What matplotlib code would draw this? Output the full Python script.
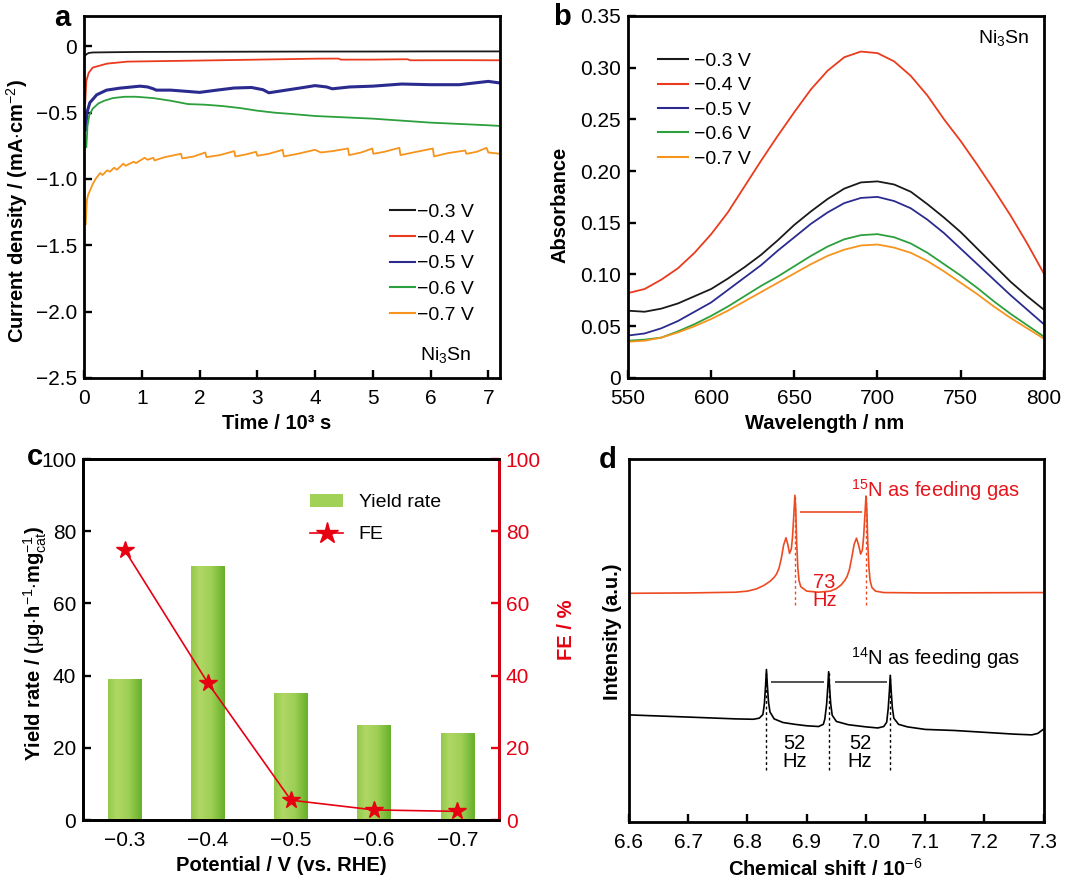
import numpy as np
import matplotlib
matplotlib.use("Agg")
import matplotlib.pyplot as plt
import matplotlib.colors as mcol
from matplotlib.patches import Patch
from matplotlib.lines import Line2D
from matplotlib.ticker import FuncFormatter

plt.rcParams['font.family'] = ['Liberation Sans', 'DejaVu Sans']
plt.rcParams['mathtext.fontset'] = 'custom'
plt.rcParams['mathtext.rm'] = 'Liberation Sans'
plt.rcParams['mathtext.it'] = 'Liberation Sans'
plt.rcParams['mathtext.bf'] = 'Liberation Sans:bold'

# ---------------- data ----------------
labels_v = ['\u22120.3 V', '\u22120.4 V', '\u22120.5 V', '\u22120.6 V', '\u22120.7 V']
colors = ['#1a1a1a', '#ea3b1e', '#2b2b8f', '#2ca03c', '#f7941d']

# (a) chronoamperometry, time in 10^3 s, current in mA cm^-2
black_t = [0.02, 0.04, 0.08, 0.15, 0.5, 1, 2, 3, 4, 5, 6, 7.2]
black_j = [-0.07, -0.06, -0.05, -0.046, -0.044, -0.042, -0.041, -0.04, -0.039, -0.039, -0.038, -0.038]
red_t = [0.02, 0.04, 0.08, 0.15, 0.4, 0.75, 1.2, 2, 3, 4, 4.4, 4.45, 5, 5.6, 5.65, 6.5, 7.2]
red_j = [-0.43, -0.26, -0.2, -0.16, -0.13, -0.115, -0.112, -0.107, -0.1, -0.093, -0.092, -0.1,
         -0.1, -0.097, -0.105, -0.104, -0.105]
blue_t = [0.03, 0.05, 0.1, 0.22, 0.39, 0.62, 0.97, 1.1, 1.2, 1.25, 1.5, 1.8, 2.0, 2.3, 2.6, 2.9,
          3.1, 3.2, 3.5, 3.8, 4.0, 4.2, 4.3, 4.6, 5.0, 5.5, 6.0, 6.5, 7.0, 7.2]
blue_j = [-0.63, -0.5, -0.425, -0.365, -0.33, -0.315, -0.3, -0.306, -0.32, -0.33, -0.33, -0.34,
          -0.347, -0.33, -0.314, -0.31, -0.327, -0.35, -0.33, -0.31, -0.296, -0.306, -0.32,
          -0.306, -0.3, -0.284, -0.289, -0.289, -0.264, -0.276]
green_t = [0.04, 0.06, 0.09, 0.15, 0.25, 0.35, 0.5, 0.7, 0.9, 1.2, 1.5, 1.8, 2.1, 2.4, 2.7, 3.0,
           3.3, 3.6, 4.0, 4.5, 5.0, 5.5, 6.0, 6.5, 7.0, 7.2]
green_j = [-0.76, -0.6, -0.52, -0.47, -0.43, -0.41, -0.39, -0.38, -0.38, -0.39, -0.41, -0.435,
           -0.44, -0.45, -0.465, -0.485, -0.5, -0.51, -0.525, -0.535, -0.545, -0.56, -0.575,
           -0.585, -0.595, -0.6]
orange_t = [0.03, 0.04, 0.05, 0.07, 0.1, 0.15, 0.2, 0.28, 0.32, 0.4, 0.45, 0.52, 0.57, 0.68, 0.72,
            0.86, 0.9, 1.05, 1.1, 1.2, 1.22, 1.4, 1.68, 1.7, 1.9, 2.1, 2.12, 2.35, 2.6, 2.62,
            2.8, 2.98, 3.0, 3.2, 3.44, 3.46, 3.7, 4.0, 4.1, 4.3, 4.57, 4.59, 4.8, 4.99, 5.01,
            5.2, 5.46, 5.48, 5.7, 6.04, 6.06, 6.3, 6.6, 6.62, 6.8, 6.97, 7.0, 7.2]
orange_j = [-1.34, -1.24, -1.16, -1.12, -1.09, -1.04, -1.0, -0.955, -0.97, -0.935, -0.945,
            -0.915, -0.93, -0.885, -0.9, -0.87, -0.88, -0.84, -0.855, -0.84, -0.86, -0.835,
            -0.81, -0.845, -0.83, -0.80, -0.835, -0.82, -0.79, -0.83, -0.815, -0.795, -0.825,
            -0.81, -0.78, -0.83, -0.81, -0.78, -0.8, -0.79, -0.77, -0.82, -0.8, -0.77, -0.81,
            -0.795, -0.765, -0.82, -0.8, -0.77, -0.83, -0.805, -0.785, -0.81, -0.795, -0.765,
            -0.8, -0.81]

# (b) UV-vis absorbance
wl = [550, 560, 570, 580, 590, 600, 610, 620, 630, 640, 650, 660, 670, 680, 690, 700,
      710, 720, 730, 740, 750, 760, 770, 780, 790, 800]
abs_03 = [0.065, 0.064, 0.067, 0.072, 0.079, 0.086, 0.096, 0.107, 0.119, 0.133, 0.148, 0.161,
          0.173, 0.183, 0.189, 0.190, 0.187, 0.180, 0.168, 0.155, 0.141, 0.125, 0.109, 0.093,
          0.079, 0.066]
abs_04 = [0.082, 0.086, 0.095, 0.106, 0.121, 0.139, 0.160, 0.185, 0.210, 0.234, 0.257, 0.279,
          0.297, 0.310, 0.3155, 0.314, 0.306, 0.292, 0.273, 0.250, 0.229, 0.206, 0.182, 0.157,
          0.130, 0.101]
abs_05 = [0.041, 0.043, 0.048, 0.055, 0.064, 0.073, 0.085, 0.097, 0.109, 0.123, 0.136, 0.149,
          0.160, 0.169, 0.174, 0.175, 0.171, 0.164, 0.153, 0.140, 0.125, 0.110, 0.095, 0.080,
          0.066, 0.052]
abs_06 = [0.036, 0.037, 0.039, 0.045, 0.052, 0.060, 0.069, 0.079, 0.089, 0.098, 0.108, 0.118,
          0.127, 0.134, 0.138, 0.139, 0.136, 0.130, 0.121, 0.110, 0.099, 0.087, 0.074, 0.062,
          0.051, 0.040]
abs_07 = [0.035, 0.036, 0.039, 0.044, 0.050, 0.057, 0.065, 0.074, 0.083, 0.092, 0.101, 0.110,
          0.118, 0.124, 0.128, 0.129, 0.126, 0.121, 0.113, 0.103, 0.092, 0.081, 0.069, 0.058,
          0.048, 0.038]

# (c) yield rate and FE
potentials = ['\u22120.3', '\u22120.4', '\u22120.5', '\u22120.6', '\u22120.7']
yield_rate = [39.2, 70.5, 35.3, 26.4, 24.2]
fe = [74.8, 38.0, 5.5, 2.8, 2.4]

# (d) 1H NMR, intensity in arbitrary units (0-100 frame)
n15_x = [6.600, 6.700, 6.780, 6.800, 6.815, 6.828, 6.838, 6.845, 6.849, 6.853, 6.857, 6.861,
         6.865, 6.868, 6.871, 6.874, 6.876, 6.878, 6.880, 6.8815, 6.883, 6.885, 6.887, 6.890,
         6.900, 6.920, 6.940, 6.950, 6.958, 6.964, 6.968, 6.972, 6.976, 6.980, 6.984, 6.988,
         6.991, 6.994, 6.996, 6.998, 7.000, 7.0015, 7.003, 7.005, 7.007, 7.010, 7.016, 7.030,
         7.100, 7.300]
n15_y = [63.0, 63.1, 63.3, 63.6, 64.2, 65.2, 66.3, 67.4, 68.3, 69.8, 72.5, 76.3,
         78.3, 76.5, 74.0, 75.2, 78.5, 84.0, 90.0, 86.0, 77.0, 70.0, 66.5, 64.8,
         63.6, 63.3, 63.6, 64.3, 65.3, 66.5, 67.6, 69.5, 72.8, 76.5, 78.2, 76.0,
         73.8, 75.0, 78.5, 84.0, 89.8, 86.0, 77.0, 70.0, 66.5, 64.6, 63.6, 63.2,
         63.1, 63.2]
n14_x = [6.600, 6.700, 6.780, 6.810, 6.820, 6.826, 6.8285, 6.8305, 6.832, 6.8335, 6.8355, 6.838,
         6.845, 6.860, 6.880, 6.900, 6.920, 6.928, 6.9305, 6.9335, 6.9355, 6.937, 6.9385, 6.9405,
         6.943, 6.950, 6.970, 7.000, 7.020, 7.030, 7.035, 7.0375, 7.0395, 7.041, 7.0425, 7.0445,
         7.047, 7.055, 7.070, 7.100, 7.150, 7.200, 7.250, 7.280, 7.290, 7.300]
n14_y = [29.5, 28.9, 28.4, 28.3, 28.6, 29.6, 32.5, 37.5, 42.0, 37.8, 33.0, 30.3,
         28.4, 27.4, 26.9, 26.5, 26.3, 26.9, 28.3, 32.3, 37.0, 41.4, 37.2, 32.5,
         29.4, 27.7, 26.8, 26.2, 25.9, 26.3, 27.5, 31.2, 36.0, 40.4, 36.2, 31.5,
         28.6, 26.9, 26.2, 25.5, 25.2, 24.7, 24.2, 24.0, 24.4, 25.6]
n15_peaks = [6.880, 7.000]
n14_peaks = [6.832, 6.937, 7.041]

# ---------------- figure ----------------
fig = plt.figure(figsize=(10.8, 8.81), dpi=100)
ax_a = fig.add_axes([0.0778, 0.571, 0.385, 0.411])
ax_b = fig.add_axes([0.5815, 0.571, 0.385, 0.411])
ax_c = fig.add_axes([0.0769, 0.0692, 0.385, 0.4098])
ax_d = fig.add_axes([0.5824, 0.0670, 0.384, 0.412])

TICK = 15
LEG = 14
LAB = 14.5


def style(ax):
    for s in ax.spines.values():
        s.set_linewidth(2)
    ax.tick_params(direction='in', length=6, width=1.7, labelsize=TICK,
                   top=False, right=False)
    ax.tick_params(axis='x', pad=8)
    ax.tick_params(axis='y', pad=5)


def zero_fmt(fmt):
    def f(v, pos):
        if abs(v) < 1e-9:
            return '0'
        return (fmt % v).replace('-', '\u2212')
    return FuncFormatter(f)


# ---- (a)
style(ax_a)
series_a = [(black_t, black_j), (red_t, red_j), (blue_t, blue_j), (green_t, green_j), (orange_t, orange_j)]
for (t, j), c, lab in zip(series_a, colors, labels_v):
    lw = 2.2 if c == '#2b2b8f' else 1.3
    ax_a.plot(t, j, color=c, lw=lw, label=lab)
ax_a.set_xlim(0, 7.2)
ax_a.set_ylim(-2.5, 0.23)
ax_a.set_xticks(range(8))
ax_a.set_yticks([0, -0.5, -1.0, -1.5, -2.0, -2.5])
ax_a.yaxis.set_major_formatter(zero_fmt('%.1f'))
ax_a.set_xlabel('Time / 10\u00b3 s', fontsize=LAB, fontweight='bold')
ax_a.set_ylabel(r'Current density / (mA$\cdot$cm$^{-2}$)', fontsize=LAB, fontweight='bold')
ax_a.xaxis.set_label_coords(0.464, -0.1)
ax_a.yaxis.set_label_coords(-0.129, 0.462)
leg = ax_a.legend(loc='center left', bbox_to_anchor=(0.736, 0.316), frameon=False,
                  fontsize=LEG, handlelength=1.3, handletextpad=0.1,
                  labelspacing=0.42, borderpad=0, borderaxespad=0)
for h in leg.get_lines():
    h.set_linewidth(1.5)
ax_a.text(0.87, 0.064, r'Ni$_3$Sn', transform=ax_a.transAxes, fontsize=LEG,
          ha='center', va='center')

# ---- (b)
style(ax_b)
for y, c, lab in zip([abs_03, abs_04, abs_05, abs_06, abs_07], colors, labels_v):
    ax_b.plot(wl, y, color=c, lw=1.3, label=lab)
ax_b.set_xlim(550, 800)
ax_b.set_ylim(0, 0.35)
ax_b.set_xticks([550, 600, 650, 700, 750, 800])
ax_b.set_yticks([0, 0.05, 0.1, 0.15, 0.2, 0.25, 0.3, 0.35])
ax_b.yaxis.set_major_formatter(zero_fmt('%.2f'))
ax_b.set_xlabel('Wavelength / nm', fontsize=LAB, fontweight='bold')
ax_b.set_ylabel('Absorbance', fontsize=LAB, fontweight='bold')
ax_b.xaxis.set_label_coords(0.474, -0.1)
ax_b.yaxis.set_label_coords(-0.14, 0.478)
leg = ax_b.legend(loc='center left', bbox_to_anchor=(0.072, 0.74), frameon=False,
                  fontsize=LEG, handlelength=1.55, handletextpad=0.31,
                  labelspacing=0.35, borderpad=0, borderaxespad=0)
for h in leg.get_lines():
    h.set_linewidth(1.5)
ax_b.text(0.904, 0.939, r'Ni$_3$Sn', transform=ax_b.transAxes, fontsize=LEG,
          ha='center', va='center')

# ---- (c)
style(ax_c)
xpos = np.arange(len(potentials))
bars = ax_c.bar(xpos, yield_rate, width=0.4, color='none', edgecolor='none', zorder=2)
cmap_bar = mcol.LinearSegmentedColormap.from_list(
    'bar', [(0, '#93c94a'), (0.25, '#b0d765'), (0.6, '#9fcf56'), (1, '#66b12a')])
grad = np.linspace(0, 1, 64).reshape(1, -1)
for b in bars:
    x0, w, h = b.get_x(), b.get_width(), b.get_height()
    im = ax_c.imshow(grad, extent=[x0, x0 + w, 0, h], aspect='auto', cmap=cmap_bar,
                     zorder=2, interpolation='bicubic')
    im.set_clip_path(b)
ax_c.set_xlim(-0.5, 4.5)
ax_c.set_ylim(0, 100)
ax_c.set_xticks(xpos)
ax_c.set_xticklabels(potentials)
ax_c.set_yticks([0, 20, 40, 60, 80, 100])
ax_c.set_xlabel('Potential / V (vs. RHE)', fontsize=LAB, fontweight='bold')
ax_c.set_ylabel(r'Yield rate / ($\mu$g$\cdot$h$^{-1}$$\cdot$mg$^{-1}_{\rm cat}$)',
                fontsize=LAB, fontweight='bold')
ax_c.xaxis.set_label_coords(0.478, -0.1)
ax_c.yaxis.set_label_coords(-0.083, 0.49)
ax_c.tick_params(axis='x', length=7, width=2, pad=8)

fe_red = '#e60012'
ax_c2 = ax_c.twinx()
ax_c2.plot(xpos, fe, color=fe_red, lw=1.2, marker='*', ms=13, mec=fe_red, mfc=fe_red, zorder=5)
ax_c2.set_ylim(0, 100)
ax_c2.set_yticks([0, 20, 40, 60, 80, 100])
for s in ax_c2.spines.values():
    s.set_linewidth(2)
ax_c2.spines['right'].set_color(fe_red)
ax_c2.tick_params(axis='y', direction='in', length=6, width=1.7, labelsize=TICK,
                  colors=fe_red, pad=5)
ax_c2.set_ylabel('FE / %', fontsize=LAB, fontweight='bold', color=fe_red)
ax_c2.yaxis.set_label_coords(1.14, 0.526)
handles = [Patch(facecolor='#a2d157', edgecolor='none'),
           Line2D([], [], color=fe_red, lw=1.2, marker='*', ms=16)]
ax_c2.legend(handles, ['Yield rate', 'FE'], loc='center left', bbox_to_anchor=(0.546, 0.835),
             frameon=False, fontsize=LEG, handlelength=1.7, handletextpad=0.8,
             labelspacing=0.75, borderpad=0, borderaxespad=0)

# ---- (d)
style(ax_d)
nmr_red = '#ee4a22'
ax_d.plot(n15_x, n15_y, color=nmr_red, lw=1.2)
ax_d.plot(n14_x, n14_y, color='black', lw=1.2)
ax_d.vlines(n15_peaks, 59.8, [90.0, 89.8], colors=nmr_red, linestyles=(0, (2, 2)), lw=1)
ax_d.vlines(n14_peaks, 14.3, [42.0, 41.4, 40.4], colors='black', linestyles=(0, (2, 2)), lw=1)
ax_d.hlines(85.4, 6.889, 6.994, color=nmr_red, lw=1.2)
ax_d.hlines([38.6, 38.6], [6.840, 6.947], [6.929, 7.036], color='#333333', lw=1.2)
ax_d.text(6.93, 66.1, '73', color='#e8141c', fontsize=LEG + 0.5, ha='center', va='center')
ax_d.text(6.93, 61.0, 'Hz', color='#e8141c', fontsize=LEG + 0.5, ha='center', va='center')
for xc in [6.879, 6.99]:
    ax_d.text(xc, 21.7, '52', fontsize=LEG + 0.5, ha='center', va='center')
    ax_d.text(xc, 16.6, 'Hz', fontsize=LEG + 0.5, ha='center', va='center')
ax_d.text(6.975, 91.5, r'$^{15}$N as feeding gas', color='#e8141c', fontsize=LEG + 0.5,
          ha='left', va='center')
ax_d.text(6.975, 45.2, r'$^{14}$N as feeding gas', color='black', fontsize=LEG + 0.5,
          ha='left', va='center')
ax_d.set_xlim(6.6, 7.3)
ax_d.set_ylim(0, 100)
ax_d.set_xticks([6.6, 6.7, 6.8, 6.9, 7.0, 7.1, 7.2, 7.3])
ax_d.xaxis.set_major_formatter(FuncFormatter(lambda v, p: '%.1f' % v))
ax_d.set_yticks([])
ax_d.set_xlabel(r'Chemical shift / 10$^{-6}$', fontsize=LAB, fontweight='bold')
ax_d.set_ylabel('Intensity (a.u.)', fontsize=LAB, fontweight='bold')
ax_d.xaxis.set_label_coords(0.472, -0.1)
ax_d.yaxis.set_label_coords(-0.017, 0.523)

# panel letters
for lt, (px, py) in zip('abcd', [(62, 18), (562, 17), (35, 457), (608, 460)]):
    fig.text(px / 1080, 1 - py / 881, lt, fontsize=21, fontweight='bold',
             ha='center', va='center')

fig.savefig('out.png', dpi=100)
